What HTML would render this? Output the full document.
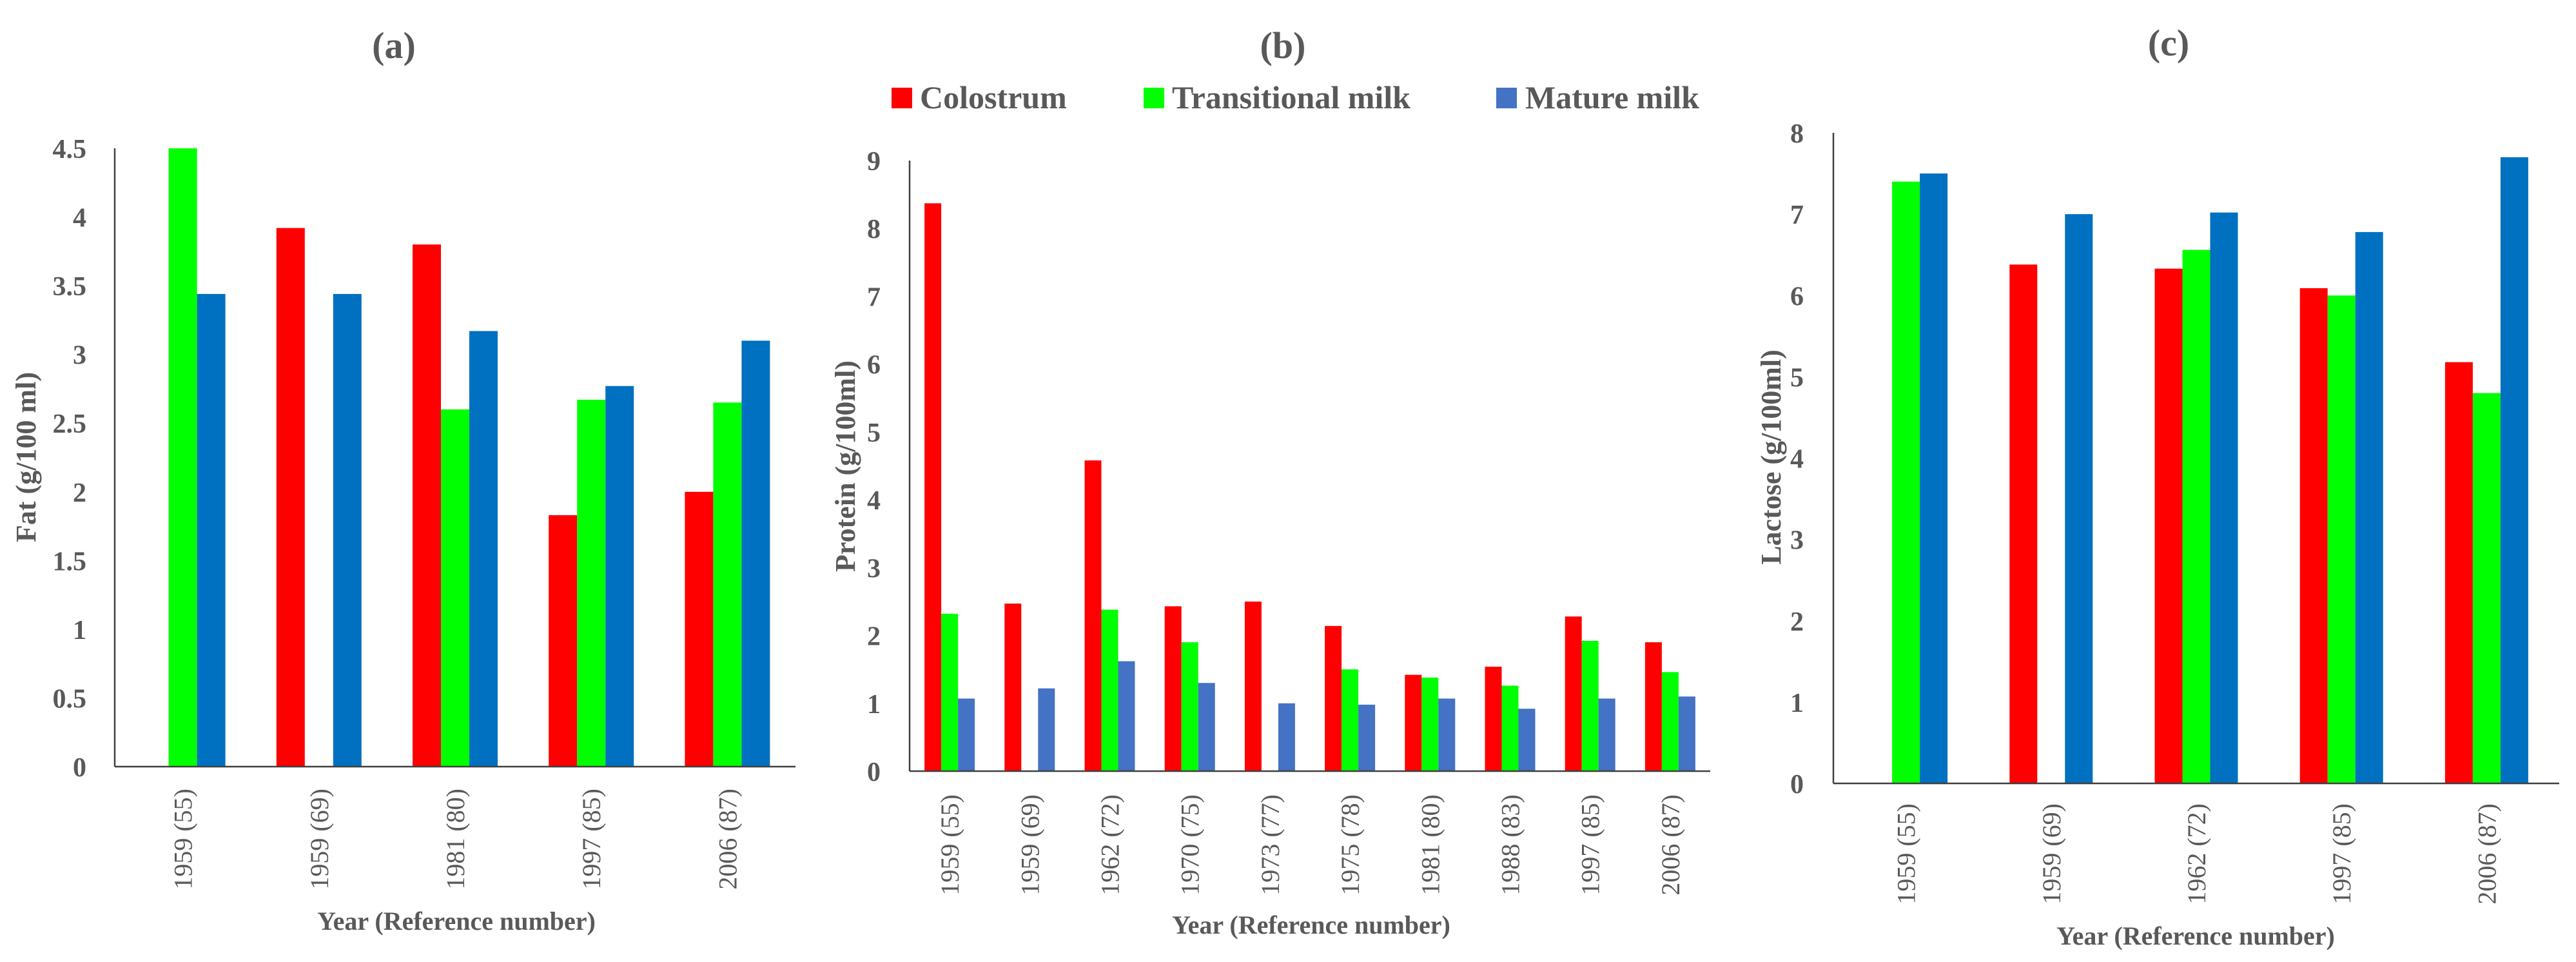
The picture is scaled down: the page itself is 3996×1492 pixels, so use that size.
<!DOCTYPE html>
<html><head><meta charset="utf-8"><style>
html,body{margin:0;padding:0;background:#fff;}
svg{display:block;font-family:"Liberation Serif",serif;}
</style></head><body>
<svg id="chart" width="3996" height="1492" viewBox="0 0 3996 1492" xmlns="http://www.w3.org/2000/svg">
<g id="legend">
  <rect x="1383" y="136" width="32" height="32" fill="#ff0000"/>
  <text x="1427" y="168" font-size="50" font-weight="bold" fill="#595959">Colostrum</text>
  <rect x="1774" y="136" width="32" height="32" fill="#00ff00"/>
  <text x="1818" y="168" font-size="50" font-weight="bold" fill="#595959">Transitional milk</text>
  <rect x="2321" y="136" width="32" height="32" fill="#4472c4"/>
  <text x="2366" y="168" font-size="50" font-weight="bold" fill="#595959">Mature milk</text>
</g>
</svg>
<script>
// Panel (a) Fat
const catsA = ["1959 (55)","1959 (69)","1981 (80)","1997 (85)","2006 (87)"];
const colA = [0, 3.92, 3.8, 1.83, 2.0];
const traA = [4.5, 0, 2.6, 2.67, 2.65];
const matA = [3.44, 3.44, 3.17, 2.77, 3.1];
const ticksA = ["0","0.5","1","1.5","2","2.5","3","3.5","4","4.5"];
// Panel (b) Protein
const catsB = ["1959 (55)","1959 (69)","1962 (72)","1970 (75)","1973 (77)","1975 (78)","1981 (80)","1988 (83)","1997 (85)","2006 (87)"];
const colB = [8.37, 2.47, 4.58, 2.43, 2.5, 2.14, 1.42, 1.54, 2.28, 1.9];
const traB = [2.32, 0, 2.38, 1.9, 0, 1.5, 1.38, 1.26, 1.92, 1.46];
const matB = [1.07, 1.22, 1.62, 1.3, 1.0, 0.98, 1.07, 0.92, 1.07, 1.1];
const ticksB = ["0","1","2","3","4","5","6","7","8","9"];
// Panel (c) Lactose
const catsC = ["1959 (55)","1959 (69)","1962 (72)","1997 (85)","2006 (87)"];
const colC = [0, 6.38, 6.33, 6.09, 5.18];
const traC = [7.4, 0, 6.56, 6.0, 4.8];
const matC = [7.5, 7.0, 7.02, 6.78, 7.7];
const ticksC = ["0","1","2","3","4","5","6","7","8"];

const NS = "http://www.w3.org/2000/svg";
const svg = document.getElementById("chart");
function mk(tag, attrs, parent) {
  const e = document.createElementNS(NS, tag);
  for (const k in attrs) e.setAttribute(k, attrs[k]);
  (parent || svg).appendChild(e);
  return e;
}
const GREY = "#595959";

function panel(p) {
  const g = mk("g", {});
  
  
  const yScale = v => p.y0 - (v / p.max) * (p.y0 - p.yTop);
  const step = (p.xEnd - p.x0) / p.cats.length;
  const t = mk("text", {x: p.titleX, y: p.titleY, "font-size": 58, "font-weight": "bold", fill: GREY, "text-anchor": "middle"}, g);
  t.textContent = "(" + p.id + ")";
  
  
  p.ticks.forEach(tk => {
    const tt = mk("text", {x: p.tickX, y: yScale(parseFloat(tk)) + 15, "font-size": 42, "font-weight": "bold", fill: GREY, "text-anchor": "end"}, g);
    tt.textContent = tk;
    
    
  });
  const series = [[p.col, "#ff0000", "colostrum"], [p.tra, "#00ff00", "transitional"], [p.mat, p.blue, "mature"]];
  p.cats.forEach((c, i) => {
    const cx = p.x0 + step * (i + 0.5);
    series.forEach((s, j) => {
      const v = s[0][i];
      if (v <= 0) return;
      const x = cx + (j - 1.5) * p.bw;
      const r = mk("rect", {x: x, y: yScale(v), width: p.bw, height: p.y0 - yScale(v), fill: s[1]}, g);
      
      
    });
    const xl = mk("text", {transform: "translate(" + (cx + 14) + "," + p.xlTop + ") rotate(-90)", "font-size": 40, fill: GREY, "text-anchor": "end"}, g);
    xl.textContent = c;
    
    
  });
  const ya = mk("line", {x1: p.x0, y1: p.yTop, x2: p.x0, y2: p.y0, stroke: "#404040", "stroke-width": 2.5}, g);
  
  
  const xa = mk("line", {x1: p.x0, y1: p.y0, x2: p.xEnd, y2: p.y0, stroke: "#404040", "stroke-width": 2.5}, g);
  
  
  const yt = mk("text", {transform: "translate(" + p.ytX + "," + p.ytY + ") rotate(-90)", "font-size": 44, "font-weight": "bold", fill: GREY, "text-anchor": "middle"}, g);
  yt.textContent = p.ytitle;
  
  
  const xt = mk("text", {x: p.xtX, y: p.xtY, "font-size": 40, "font-weight": "bold", fill: GREY, "text-anchor": "middle"}, g);
  xt.textContent = "Year (Reference number)";
  
  
}

panel({id: "a", cats: catsA, col: colA, tra: traA, mat: matA, ticks: ticksA, max: 4.5,
  x0: 178, xEnd: 1234, y0: 1189, yTop: 230, bw: 44, blue: "#0070c0",
  tickX: 134, titleX: 611, titleY: 90, xlTop: 1223, ytX: 55, ytY: 709, ytitle: "Fat (g/100 ml)", xtX: 708, xtY: 1442});
panel({id: "b", cats: catsB, col: colB, tra: traB, mat: matB, ticks: ticksB, max: 9,
  x0: 1411, xEnd: 2653, y0: 1196, yTop: 249, bw: 26, blue: "#4472c4",
  tickX: 1366, titleX: 1990, titleY: 90, xlTop: 1232, ytX: 1326, ytY: 723, ytitle: "Protein (g/100ml)", xtX: 2034, xtY: 1448});
panel({id: "c", cats: catsC, col: colC, tra: traC, mat: matC, ticks: ticksC, max: 8,
  x0: 2844, xEnd: 3970, y0: 1215, yTop: 206, bw: 43, blue: "#0070c0",
  tickX: 2798, titleX: 3364, titleY: 86, xlTop: 1246, ytX: 2762, ytY: 709, ytitle: "Lactose  (g/100ml)", xtX: 3406, xtY: 1465});
</script>
</body></html>
